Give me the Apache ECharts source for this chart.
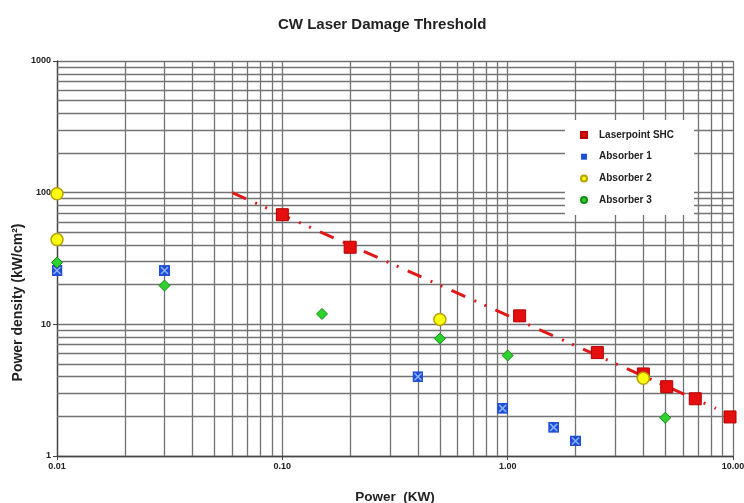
<!DOCTYPE html>
<html>
<head>
<meta charset="utf-8">
<script src="https://cdn.jsdelivr.net/npm/echarts@6/dist/echarts.min.js"></script>
<style>
html,body{margin:0;padding:0;background:#fff;}
#c{width:744px;height:503px;}
</style>
</head>
<body>
<div id="c"></div>
<script>
// ---- data ----
const laserX = [0.1, 0.2, 1.13, 2.5, 4, 5.08, 6.8, 9.7];
const laserY = [68, 38.5, 11.6, 6.1, 4.2, 3.36, 2.72, 1.98];
const abs1X = [0.01, 0.03, 0.4, 0.95, 1.6, 2.0];
const abs1Y = [25.6, 25.6, 4.0, 2.3, 1.65, 1.3];
const abs2X = [0.01, 0.01, 0.5, 4];
const abs2Y = [98, 44, 10.9, 3.9];
const abs3X = [0.01, 0.03, 0.15, 0.5, 1.0, 5];
const abs3Y = [29.5, 19.7, 12, 7.8, 5.8, 1.95];
const trendX = [0.06, 8.4];
const trendY = [100, 2.3];
const xMinor = [0.02,0.03,0.04,0.05,0.06,0.07,0.08,0.09,0.2,0.3,0.4,0.5,0.6,0.7,0.8,0.9,2,3,4,5,6,7,8,9];
const yMinor = [2,3,4,5,6,7,8,9,20,30,40,50,60,70,80,90,200,300,400,500,600,700,800,900];
const seriesNames = ['Laserpoint SHC', 'Absorber 1', 'Absorber 2', 'Absorber 3'];

const zip = (a, b) => a.map((v, i) => [v, b[i]]);
const FONT = 'Liberation Sans, Arial, sans-serif';
const gridColor = '#737373';

const xSvg = "<svg xmlns='http://www.w3.org/2000/svg' width='22' height='22' viewBox='0 0 22 22'><rect width='22' height='22' fill='#1f4fd6'/><path d='M4 4L18 18M18 4L4 18' stroke='#8fb0ff' stroke-width='3'/></svg>";
const blueSym = 'image://data:image/svg+xml;charset=utf-8,' + encodeURIComponent(xSvg);

const chart = echarts.init(document.getElementById('c'), null, {renderer: 'canvas'});
chart.setOption({
  animation: false,
  backgroundColor: '#fff',
  textStyle: {fontFamily: FONT},
  title: {
    text: 'CW Laser Damage Threshold',
    left: 273, top: 12,
    textStyle: {fontFamily: FONT, fontSize: 15, fontWeight: 'bold', color: '#222'}
  },
  grid: {left: 57, right: 11, top: 61, bottom: 47, containLabel: false, outerBoundsMode: 'none'},
  legend: {
    orient: 'vertical',
    left: 565, top: 120,
    padding: [10, 20, 10, 15],
    backgroundColor: '#fff',
    itemWidth: 6, itemHeight: 6, itemGap: 11.7,
    z: 6,
    textStyle: {fontFamily: FONT, fontSize: 10, fontWeight: 'bold', color: '#222', padding: [0, 0, 0, 7]},
    data: [
      {name: seriesNames[0], icon: 'rect'},
      {name: seriesNames[1], icon: 'rect'},
      {name: seriesNames[2], icon: 'circle'},
      {name: seriesNames[3], icon: 'circle'}
    ]
  },
  xAxis: {
    type: 'log', logBase: 10, min: 0.01, max: 10,
    name: 'Power  (KW)', nameLocation: 'middle', nameGap: 34,
    nameTextStyle: {fontFamily: FONT, fontSize: 13.5, fontWeight: 'bold', color: '#222'},
    axisLine: {show: true, lineStyle: {color: '#444', width: 1.3}},
    axisTick: {show: true, length: 4, lineStyle: {color: '#444'}},
    axisLabel: {fontFamily: FONT, fontSize: 9, fontWeight: 'bold', color: '#222', margin: 6,
      formatter: v => Number(v).toFixed(2)},
    splitLine: {show: true, lineStyle: {color: gridColor, width: 1.3}}
  },
  yAxis: {
    type: 'log', logBase: 10, min: 1, max: 1000,
    name: 'Power density (kW/cm²)', nameLocation: 'middle', nameGap: 32, nameMoveOverlap: false,
    nameTextStyle: {fontFamily: FONT, fontSize: 14, fontWeight: 'bold', color: '#222', padding: [0, 88, 0, 0]},
    axisLine: {show: true, lineStyle: {color: '#444', width: 1.3}},
    axisTick: {show: true, length: 4, lineStyle: {color: '#444'}},
    axisLabel: {fontFamily: FONT, fontSize: 9, fontWeight: 'bold', color: '#222', margin: 6,
      formatter: v => String(Math.round(v))},
    splitLine: {show: true, lineStyle: {color: gridColor, width: 1.3}}
  },
  series: [
    {
      name: 'trend', type: 'line', data: zip(trendX, trendY),
      showSymbol: false, symbol: 'none', silent: true, z: 3,
      lineStyle: {color: '#e01818', width: 3, type: [15, 10, 2, 9, 2, 10]},
      markLine: {
        silent: true, z: 1, symbol: ['none', 'none'], label: {show: false}, animation: false,
        lineStyle: {color: gridColor, width: 1.3, type: 'solid'},
        emphasis: {disabled: true},
        data: xMinor.map(v => ({xAxis: v})).concat(yMinor.map(v => ({yAxis: v})))
      }
    },
    {
      name: seriesNames[0], type: 'scatter', z: 4, data: zip(laserX, laserY),
      symbol: 'rect', symbolSize: 12,
      itemStyle: {color: '#e50f0f', borderColor: '#b30000', borderWidth: 1, opacity: 1}
    },
    {
      name: seriesNames[1], type: 'scatter', z: 4, data: zip(abs1X, abs1Y),
      symbol: blueSym, symbolSize: 11,
      itemStyle: {color: '#1f4fd6', opacity: 1}
    },
    {
      name: seriesNames[2], type: 'scatter', z: 4, data: zip(abs2X, abs2Y),
      symbol: 'circle', symbolSize: 12,
      itemStyle: {color: '#ffff10', borderColor: '#b8a000', borderWidth: 1.5, opacity: 1}
    },
    {
      name: seriesNames[3], type: 'scatter', z: 4, data: zip(abs3X, abs3Y),
      symbol: 'diamond', symbolSize: 11,
      itemStyle: {color: '#2ed12e', borderColor: '#138a13', borderWidth: 1, opacity: 1}
    }
  ]
});
</script>
</body>
</html>
